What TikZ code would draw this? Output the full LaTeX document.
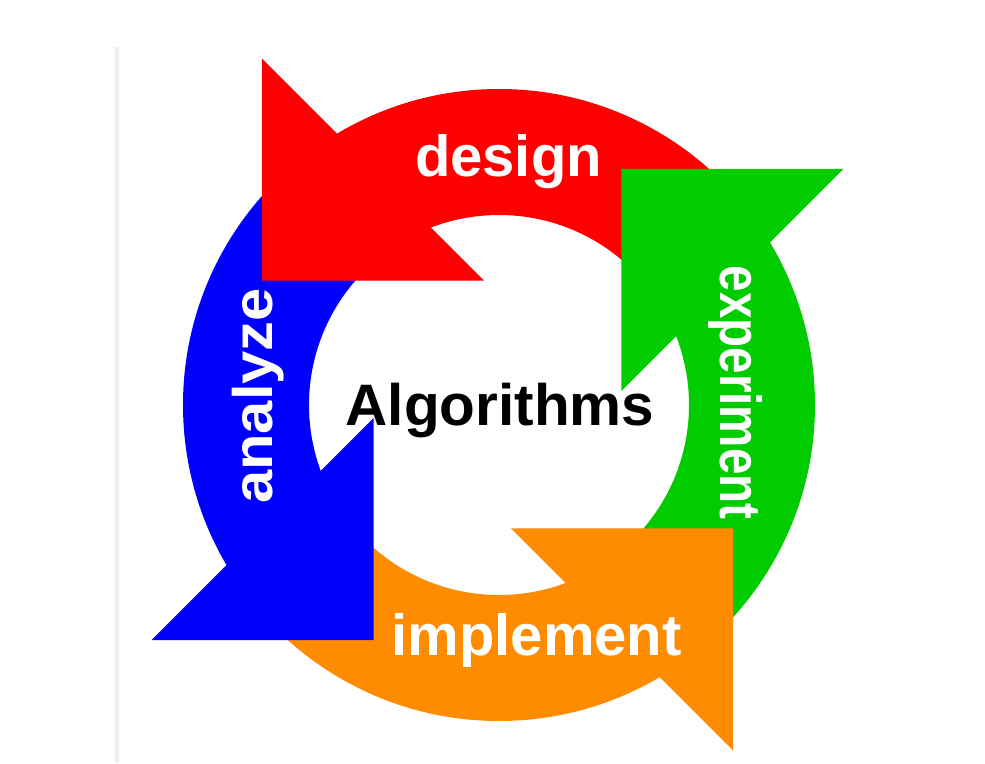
\documentclass[tikz,border=0pt]{standalone}
\usepackage{fontspec}
\setmainfont{Liberation Sans}
\definecolor{cred}{RGB}{255,0,0}
\definecolor{cgreen}{RGB}{0,204,0}
\definecolor{cblue}{RGB}{0,0,255}
\definecolor{corange}{RGB}{255,140,0}
\definecolor{cline}{RGB}{238,238,238}
\begin{document}
\begin{tikzpicture}[x=1pt,y=1pt,
  lbl/.style={text=white,inner sep=0pt,anchor=base,
    font=\bfseries\fontsize{58}{60}\selectfont},
  title/.style={text=black,inner sep=0pt,anchor=base,
    font=\bfseries\fontsize{58.5}{60}\selectfont}]
\useasboundingbox (-499,-358) rectangle (486,405);
\fill[white] (-499,-358) rectangle (486,405);
\fill[cline] (-384,-358) rectangle (-380,358);
% arc parts of the four arrows
\foreach \ang/\col in {0/cred,-90/cgreen,-180/corange,-270/cblue}{
  \begin{scope}
    \clip[shift={(-1.5,0.5)},rotate=\ang] (54.7,54.7) -- (500,500) -- (0,800) -- (-700,809.4) -- cycle;
    \fill[\col,even odd rule] (0,0) circle[radius=316] (0,0) circle[radius=190];
  \end{scope}
}
% arrow heads
\foreach \ang/\col in {0/cred,-90/cgreen,-180/corange,-270/cblue}{
  \fill[\col,shift={(-1.5,0.5)},rotate=\ang] (-235.5,123.9) -- (-235.5,345.9) -- (-13.5,123.9) -- cycle;
}
\node[lbl] (design) at (9.5,228) {design};
\node[lbl] (implement) at (37.7,-250) {implement};
\node[lbl,rotate=90,xscale=1.03,yscale=0.96] (analyze) at (-226,9) {analyze};
\node[lbl,rotate=-90,xscale=0.82] (experiment) at (221,12.5) {experiment};
\node[title] (algo) at (1,-20) {Algorithms};
\end{tikzpicture}
\end{document}
